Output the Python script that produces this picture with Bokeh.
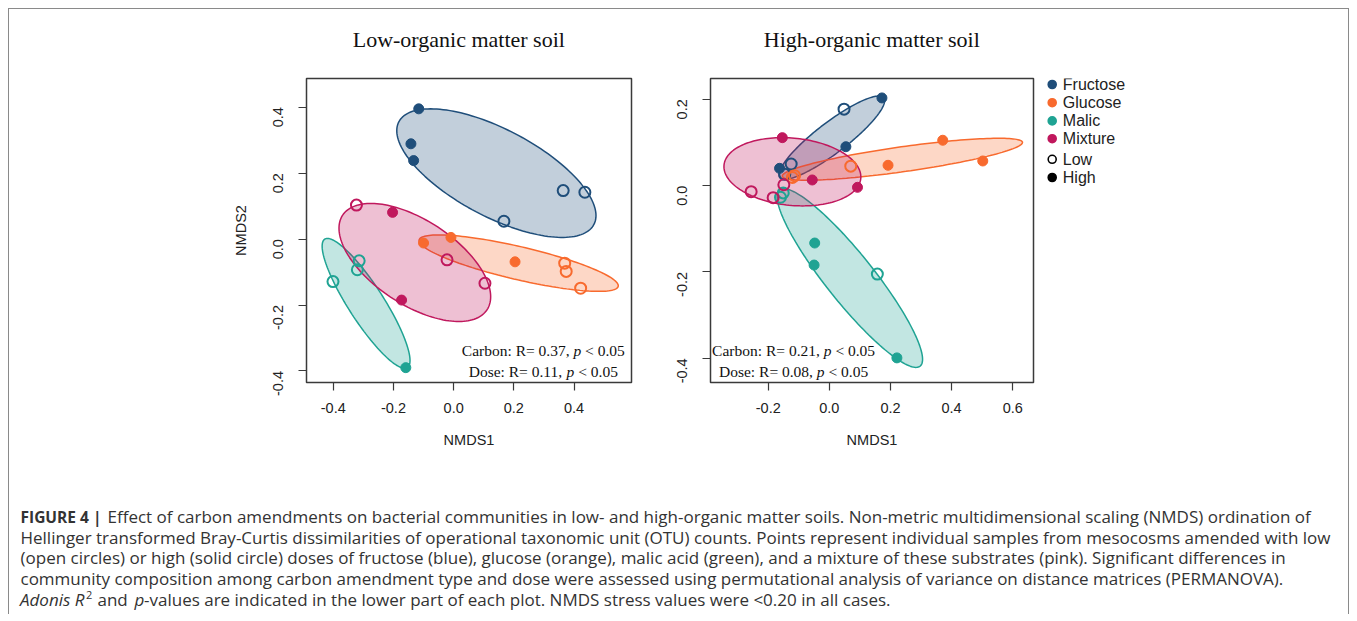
import math
import numpy as np
from bokeh.plotting import figure
from bokeh.models import (FixedTicker, PrintfTickFormatter, Label, Range1d)
from bokeh.layouts import column, row
from bokeh.embed import file_html
from bokeh.resources import INLINE
from bokeh.core.properties import value

# ---------------- data ----------------
groups = ["Fructose", "Glucose", "Malic", "Mixture"]
group_colors = ["#1f4e7a", "#f86a2e", "#1fa393", "#c0185d"]
dose_labels = ["Low", "High"]
panel_titles = ["Low-organic matter soil", "High-organic matter soil"]

# Low-organic matter soil (NMDS1, NMDS2, dose)
low_fru_x = [-0.116, -0.142, -0.133, 0.364, 0.436, 0.167]
low_fru_y = [0.395, 0.289, 0.238, 0.147, 0.142, 0.054]
low_fru_d = ["High", "High", "High", "Low", "Low", "Low"]
low_glu_x = [-0.100, -0.009, 0.204, 0.369, 0.374, 0.422]
low_glu_y = [-0.012, 0.005, -0.069, -0.073, -0.098, -0.149]
low_glu_d = ["High", "High", "High", "Low", "Low", "Low"]
low_mal_x = [-0.314, -0.320, -0.401, -0.159]
low_mal_y = [-0.066, -0.093, -0.129, -0.390]
low_mal_d = ["Low", "Low", "Low", "High"]
low_mix_x = [-0.323, -0.203, -0.022, 0.104, -0.173]
low_mix_y = [0.103, 0.081, -0.063, -0.134, -0.185]
low_mix_d = ["Low", "High", "Low", "Low", "High"]

# ellipse (centre, spread, correlation) per group, Low-OM panel
low_ell_cx = [0.142, 0.216, -0.291, -0.129]
low_ell_cy = [0.200, -0.073, -0.195, -0.071]
low_ell_sx = [0.331, 0.331, 0.146, 0.252]
low_ell_sy = [0.195, 0.0856, 0.197, 0.179]
low_ell_rho = [-0.66, -0.80, -0.88, -0.58]

# High-organic matter soil
high_fru_x = [0.172, 0.054, -0.163, 0.048, -0.125, -0.146]
high_fru_y = [0.203, 0.090, 0.040, 0.177, 0.050, 0.026]
high_fru_d = ["High", "High", "High", "Low", "Low", "Low"]
high_glu_x = [0.371, 0.502, 0.192, 0.070, -0.114, -0.121]
high_glu_y = [0.105, 0.057, 0.047, 0.045, 0.023, 0.019]
high_glu_d = ["High", "High", "High", "Low", "Low", "Low"]
high_mal_x = [-0.048, -0.050, 0.221, 0.157, -0.160, -0.151]
high_mal_y = [-0.133, -0.184, -0.399, -0.205, -0.027, -0.017]
high_mal_d = ["High", "High", "High", "Low", "Low", "Low"]
high_mix_x = [-0.154, -0.056, 0.092, -0.256, -0.149, -0.184]
high_mix_y = [0.111, 0.013, -0.004, -0.014, 0.002, -0.028]
high_mix_d = ["High", "High", "High", "Low", "Low", "Low"]

high_ell_cx = [0.008, 0.239, 0.067, -0.121]
high_ell_cy = [0.111, 0.061, -0.214, 0.032]
high_ell_sx = [0.173, 0.393, 0.238, 0.224]
high_ell_sy = [0.0964, 0.0486, 0.207, 0.079]
high_ell_rho = [0.89, 0.80, -0.91, -0.15]

low_carbon_R, low_dose_R = "0.37", "0.11"
high_carbon_R, high_dose_R = "0.21", "0.08"

low_xticks = [-0.4, -0.2, 0.0, 0.2, 0.4]
low_yticks = [-0.4, -0.2, 0.0, 0.2, 0.4]
high_xticks = [-0.2, 0.0, 0.2, 0.4, 0.6]
high_yticks = [-0.4, -0.2, 0.0, 0.2]

# ---------------- layout constants (page pixels) ----------------
SANS = "Liberation Sans"
SERIF = "Liberation Serif"
CAPF = "Open Sans"
AX = "#3a3a3a"
X0, Y0 = 9, 9            # page position of layout content (margin + border)
CONTENT_W = 1339
TITLE_H = 55
ROW_H = 405
MB_TOP, MB_BOT = 14, 87
FRAME_TOP = Y0 + TITLE_H + MB_TOP          # 78
FRAME_BOT = Y0 + TITLE_H + ROW_H - MB_BOT  # 382

TIMES_W = {" ": 250, ":": 278, ",": 250, ".": 250, "=": 564, "<": 564,
           "C": 667, "D": 722, "R": 667, "a": 444, "b": 500, "e": 444,
           "n": 500, "o": 500, "r": 333, "s": 389, "p": 500}
for d in "0123456789":
    TIMES_W[d] = 500


def tw(s, size):
    return sum(TIMES_W.get(c, 500) for c in s) * size / 1000.0


def ellipse_pts(cx, cy, sx, sy, rho, n=160):
    t = np.linspace(0, 2 * np.pi, n)
    xs = cx + sx * np.cos(t)
    ys = cy + sy * (rho * np.cos(t) + math.sqrt(1 - rho ** 2) * np.sin(t))
    return xs, ys


def blank_fig(w, h, xr, yr, **kw):
    f = figure(width=w, height=h, x_range=Range1d(*xr), y_range=Range1d(*yr),
               output_backend="svg", toolbar_location=None,
               x_axis_type=None, y_axis_type=None, **kw)
    f.outline_line_color = None
    f.xgrid.visible = False
    f.ygrid.visible = False
    return f


def make_panel(width, mb_left, mb_right, xr, yr, xticks, yticks, ylabel,
               pts, ell, stats, stats_xy):
    p = figure(width=width, height=ROW_H, x_range=Range1d(*xr), y_range=Range1d(*yr),
               output_backend="svg", toolbar_location=None,
               min_border_left=mb_left, min_border_right=mb_right,
               min_border_top=MB_TOP, min_border_bottom=MB_BOT)
    p.xgrid.visible = False
    p.ygrid.visible = False
    p.outline_line_color = AX
    p.outline_line_width = 1.5
    for ax, ticks in ((p.xaxis[0], xticks), (p.yaxis[0], yticks)):
        ax.ticker = FixedTicker(ticks=ticks)
        ax.formatter = PrintfTickFormatter(format="%.1f")
        ax.axis_line_color = None
        ax.major_tick_line_color = AX
        ax.major_tick_line_width = 1.2
        ax.major_tick_in = 0
        ax.major_tick_out = 8
        ax.minor_tick_line_color = None
        ax.major_label_text_font = SANS
        ax.major_label_text_font_size = "14.5px"
        ax.major_label_text_color = "#222222"
        ax.axis_label_text_font = SANS
        ax.axis_label_text_font_size = "14.5px"
        ax.axis_label_text_font_style = "normal"
        ax.axis_label_text_color = "#222222"
    p.xaxis.axis_label = "NMDS1"
    p.xaxis.major_label_standoff = 12
    p.xaxis.axis_label_standoff = 16
    p.yaxis.major_label_orientation = math.pi / 2
    p.yaxis.major_label_standoff = 20
    if ylabel:
        p.yaxis.axis_label = ylabel
        p.yaxis.axis_label_standoff = 17

    cx, cy, sx, sy, rho = ell
    exs, eys = [], []
    for i in range(len(groups)):
        a, b = ellipse_pts(cx[i], cy[i], sx[i], sy[i], rho[i])
        exs.append(a)
        eys.append(b)
    p.patches(xs=exs, ys=eys, fill_color=group_colors, fill_alpha=0.27,
              line_color=group_colors, line_width=1.5)

    for gi, (gx, gy, gd) in enumerate(pts):
        c = group_colors[gi]
        hx = [x for x, d in zip(gx, gd) if d == "High"]
        hy = [y for y, d in zip(gy, gd) if d == "High"]
        lx = [x for x, d in zip(gx, gd) if d == "Low"]
        ly = [y for y, d in zip(gy, gd) if d == "Low"]
        p.scatter(hx, hy, size=10, fill_color=c, line_color=c, line_width=1)
        p.scatter(lx, ly, size=11, fill_color=None, line_color=c, line_width=2)

    fs = 15.5
    (sx0, sy1, sy2) = stats_xy
    for lab, rval, yv in (("Carbon", stats[0], sy1), ("Dose", stats[1], sy2)):
        part1 = f"{lab}: R= {rval},"
        part3 = "< 0.05"
        w1 = tw(part1 + " ", fs)
        wp = tw("p", fs)
        wsp = tw(" ", fs)
        w3 = tw(part3, fs)
        total = w1 + wp + wsp + w3
        start = -total / 2.0
        common = dict(x=sx0, y=yv, y_offset=0.34 * fs, text_baseline="middle",
                      text_align="left", text_font=SERIF, text_font_size=f"{fs}px",
                      text_color="#111111")
        p.add_layout(Label(x_offset=start, text=part1, **common))
        p.add_layout(Label(x_offset=start + w1, text="p", text_font_style="italic", **common))
        p.add_layout(Label(x_offset=start + w1 + wp + wsp, text=part3, **common))
    return p


# ---------------- title strip ----------------
tfig = blank_fig(CONTENT_W, TITLE_H, (X0, X0 + CONTENT_W), (Y0 + TITLE_H, Y0), min_border=0)
title_fs = 22
tfig.text([458.3, 871.3], [46 - 0.34 * title_fs] * 2, text=panel_titles,
          text_font=value(SERIF), text_font_size=f"{title_fs}px",
          text_align="center", text_baseline="middle", text_color="#111111")

# ---------------- panels ----------------
left = make_panel(652, 297, 30, (-0.489, 0.591), (-0.435, 0.487),
                  low_xticks, low_yticks, "NMDS2",
                  [(low_fru_x, low_fru_y, low_fru_d), (low_glu_x, low_glu_y, low_glu_d),
                   (low_mal_x, low_mal_y, low_mal_d), (low_mix_x, low_mix_y, low_mix_d)],
                  (low_ell_cx, low_ell_cy, low_ell_sx, low_ell_sy, low_ell_rho),
                  (low_carbon_R, low_dose_R), (0.298, -0.355, -0.419))

right = make_panel(381, 49, 9, (-0.389, 0.668), (-0.456, 0.248),
                   high_xticks, high_yticks, None,
                   [(high_fru_x, high_fru_y, high_fru_d), (high_glu_x, high_glu_y, high_glu_d),
                    (high_mal_x, high_mal_y, high_mal_d), (high_mix_x, high_mix_y, high_mix_d)],
                   (high_ell_cx, high_ell_cy, high_ell_sx, high_ell_sy, high_ell_rho),
                   (high_carbon_R, high_dose_R), (-0.117, -0.393, -0.442))

# ---------------- legend (own canvas; data units = page pixels) ----------------
LW = 306
LEG_X0 = X0 + 652 + 381
legf = blank_fig(LW, ROW_H, (LEG_X0, LEG_X0 + LW), (FRAME_BOT, FRAME_TOP),
                 min_border_left=0, min_border_right=0,
                 min_border_top=MB_TOP, min_border_bottom=MB_BOT)
leg_labels = groups + dose_labels
leg_fill = group_colors + [None, "black"]
leg_line = group_colors + ["black", "black"]
leg_y = [84.0, 102.2, 120.4, 138.2, 158.8, 177.0]
legf.scatter([1051.7] * 6, leg_y, size=8, fill_color=leg_fill, line_color=leg_line,
             line_width=1.6)
legf.text([1062.3] * 6, leg_y, text=leg_labels, text_font=value(SANS),
          text_font_size="16px", text_baseline="middle", text_align="left",
          text_color="#222222")

# ---------------- caption ----------------
CH = 145
CAP_TOP = Y0 + TITLE_H + ROW_H
cap = blank_fig(CONTENT_W, CH, (X0, X0 + CONTENT_W), (CAP_TOP + CH, CAP_TOP), min_border=0)

FS = 17
CAP_COL = "#333333"
base_page = [522, 542.6, 563.2, 583.8, 604.4]


def cap_label(x_page, base, text, style="normal", size=FS, raise_px=0):
    cap.add_layout(Label(x=x_page, y=base - 0.34 * size - raise_px, text=text,
                         text_font=CAPF, text_font_size=f"{size}px", text_font_style=style,
                         text_color=CAP_COL, text_baseline="middle", text_align="left"))


cap_label(20, base_page[0], "FIGURE 4 |", "bold", 15.5)
cap_label(107, base_page[0],
          "Effect of carbon amendments on bacterial communities in low- and high-organic matter soils. "
          "Non-metric multidimensional scaling (NMDS) ordination of")
cap_label(20, base_page[1],
          "Hellinger transformed Bray-Curtis dissimilarities of operational taxonomic unit (OTU) counts. "
          "Points represent individual samples from mesocosms amended with low")
cap_label(20, base_page[2],
          "(open circles) or high (solid circle) doses of fructose (blue), glucose (orange), malic acid "
          "(green), and a mixture of these substrates (pink). Significant differences in")
cap_label(20, base_page[3],
          "community composition among carbon amendment type and dose were assessed using permutational "
          "analysis of variance on distance matrices (PERMANOVA).")
cap_label(19.5, base_page[4], "Adonis R", "italic")
cap_label(85.5, base_page[4], "2", "normal", 11, raise_px=6)
cap_label(97, base_page[4], "and")
cap_label(134, base_page[4], "p", "italic")
cap_label(143.5, base_page[4],
          "-values are indicated in the lower part of each plot. NMDS stress values were <0.20 in all cases.")

layout = column(tfig, row(left, right, legf), cap,
                styles={"margin-left": "8px", "margin-top": "8px",
                        "border-top": "1px solid #8a8a8a", "border-left": "1px solid #8a8a8a",
                        "border-right": "1px solid #8a8a8a"})

open("out.html", "w").write(file_html(layout, INLINE))
